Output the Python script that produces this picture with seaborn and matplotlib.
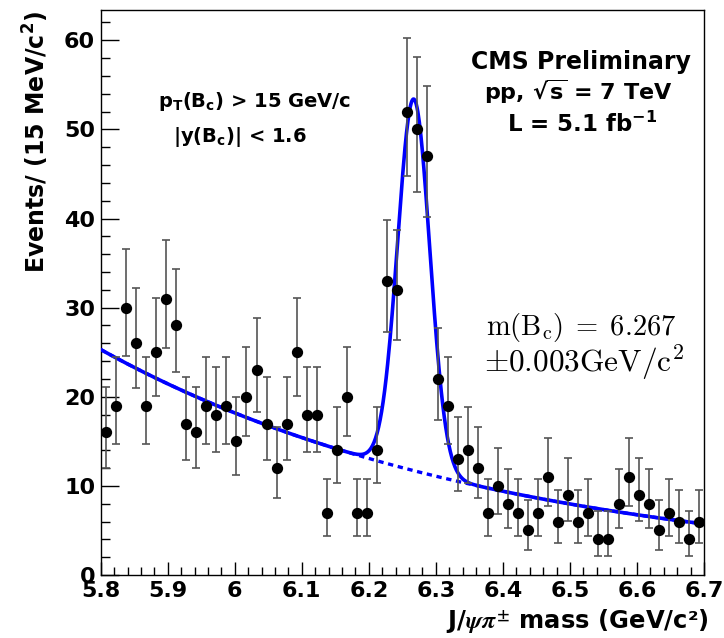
import numpy as np
import pandas as pd
import matplotlib
matplotlib.use("Agg")
import matplotlib.pyplot as plt
from matplotlib.ticker import MultipleLocator, FuncFormatter
import seaborn as sns

# ---------------- data ----------------
mass_lo = 5.8
mass_hi = 6.7
bin_width = 0.015
counts = [16, 19, 30, 26, 19, 25, 31, 28, 17, 16,
          19, 18, 19, 15, 20, 23, 17, 12, 17, 25,
          18, 18, 7, 14, 20, 7, 7, 14, 33, 32,
          52, 50, 47, 22, 19, 13, 14, 12, 7, 10,
          8, 7, 5, 7, 11, 6, 9, 6, 7, 4,
          4, 8, 11, 9, 8, 5, 7, 6, 4, 6]

# fit model parameters (exponential background + gaussian signal)
bkg_norm = 25.3      # events/bin at 5.8
bkg_slope = 1.65     # 1/GeV
sig_amp = 41.7
sig_mean = 6.267
sig_width = 0.024

x_ticks_major = 0.1
y_ticks_major = 10

# ---------------- derived ----------------
n = np.array(counts, dtype=float)
centers = mass_lo + bin_width * (np.arange(len(n)) + 0.5)


def chi2_quantile(k, z):
    # Wilson-Hilferty approximation
    return k * (1 - 2.0 / (9 * k) + z * np.sqrt(2.0 / (9 * k))) ** 3


err_lo = n - 0.5 * chi2_quantile(2 * n, -1.0)
err_hi = 0.5 * chi2_quantile(2 * n + 2, 1.0) - n

data = pd.DataFrame({"mass": centers, "events": n})

xf = np.linspace(mass_lo, mass_hi, 800)
bkg = bkg_norm * np.exp(-bkg_slope * (xf - mass_lo))
total = bkg + sig_amp * np.exp(-0.5 * ((xf - sig_mean) / sig_width) ** 2)
curves = pd.DataFrame({"mass": xf, "bkg": bkg, "total": total})

# ---------------- style ----------------
sns.set_theme(style="ticks")
plt.rcParams["font.family"] = ["DejaVu Sans"]
plt.rcParams["font.weight"] = "bold"
plt.rcParams["mathtext.fontset"] = "dejavusans"
plt.rcParams["text.color"] = "black"
plt.rcParams["axes.labelcolor"] = "black"
plt.rcParams["xtick.color"] = "black"
plt.rcParams["ytick.color"] = "black"
plt.rcParams["xtick.labelcolor"] = "black"
plt.rcParams["ytick.labelcolor"] = "black"

W, H = 724, 638
fig = plt.figure(figsize=(W / 100, H / 100), dpi=100)
fig.patch.set_facecolor("white")
ax = fig.add_axes([100.7 / W, 63 / H, 603.3 / W, 565 / H])
ax.set_facecolor("white")

blue = "#0000ff"
sns.lineplot(data=curves, x="mass", y="bkg", ax=ax, color=blue, lw=2.4,
             linestyle=(0, (1.6, 1.4)), zorder=2)
sns.lineplot(data=curves, x="mass", y="total", ax=ax, color=blue, lw=2.6,
             zorder=3)
ax.errorbar(centers, n, yerr=[err_lo, err_hi], fmt="none", ecolor="#555555",
            elinewidth=1.2, capsize=3, capthick=1.2, zorder=4)
sns.scatterplot(data=data, x="mass", y="events", ax=ax, color="black",
                s=66, edgecolor="black", linewidth=0, zorder=5)

ax.set_xlim(mass_lo, mass_hi)
ax.set_ylim(0, 63.4)
ax.set_xlabel("")
ax.set_ylabel("")
ax.xaxis.set_major_locator(MultipleLocator(x_ticks_major))
ax.xaxis.set_minor_locator(MultipleLocator(x_ticks_major / 5))
ax.yaxis.set_major_locator(MultipleLocator(y_ticks_major))
ax.yaxis.set_minor_locator(MultipleLocator(y_ticks_major / 5))
ax.xaxis.set_major_formatter(FuncFormatter(lambda v, p: "%g" % round(v, 3)))
ax.yaxis.set_major_formatter(FuncFormatter(lambda v, p: "%g" % round(v, 3)))

ax.tick_params(axis="both", which="both", direction="in", top=False,
               right=False, width=1.0, colors="black", labelcolor="black",
               labelsize=16)
ax.tick_params(axis="x", which="major", length=9.6, pad=4)
ax.tick_params(axis="x", which="minor", length=5.5)
ax.tick_params(axis="y", which="major", length=12.7, pad=4)
ax.tick_params(axis="y", which="minor", length=6.2)
for lab in ax.get_xticklabels() + ax.get_yticklabels():
    lab.set_fontweight("bold")
    lab.set_color("black")
for sp in ax.spines.values():
    sp.set_visible(True)
    sp.set_linewidth(1.0)
    sp.set_color("black")


def fx(px):
    return px / W


def fy(py):
    return 1 - py / H


# axis titles
fig.text(fx(36), fy(11), r"Events/ (15 MeV/c$^{\mathbf{2}}$)", rotation=90,
         ha="center", va="top", fontsize=17, fontweight="bold", color="black")
fig.text(fx(709), fy(628), r"J/$\psi\pi^{\pm}$ mass (GeV/c²)",
         ha="right", va="baseline", fontsize=17.5, fontweight="bold",
         math_fontfamily="stix", color="black")

# CMS labels
fig.text(fx(581), fy(69), "CMS Preliminary", ha="center", va="baseline",
         fontsize=17, fontweight="bold", color="black")
fig.text(fx(578), fy(100), r"pp, $\sqrt{\mathbf{s}}$ = 7 TeV", ha="center",
         va="baseline", fontsize=16, fontweight="bold", color="black")
fig.text(fx(582), fy(132), r"L = 5.1 fb$^{\mathbf{-1}}$", ha="center",
         va="baseline", fontsize=16.5, fontweight="bold", color="black")

# selection labels
fig.text(fx(255), fy(107), r"p$_{\mathbf{T}}$(B$_{\mathbf{c}}$) > 15 GeV/c",
         ha="center", va="baseline", fontsize=14, fontweight="bold",
         color="black")
fig.text(fx(240), fy(142), r"|y(B$_{\mathbf{c}}$)| < 1.6",
         ha="center", va="baseline", fontsize=14, fontweight="bold",
         color="black")

# mass result
fig.text(fx(486), fy(335), r"$\mathrm{m(B_c)}\;=\;6.267$", ha="left",
         va="baseline", fontsize=20.5, math_fontfamily="cm", color="black")
fig.text(fx(484), fy(372), r"$\pm0.003\mathrm{GeV/c^2}$", ha="left",
         va="baseline", fontsize=22.5, math_fontfamily="cm", color="black")

fig.savefig("out.png", dpi=100)
